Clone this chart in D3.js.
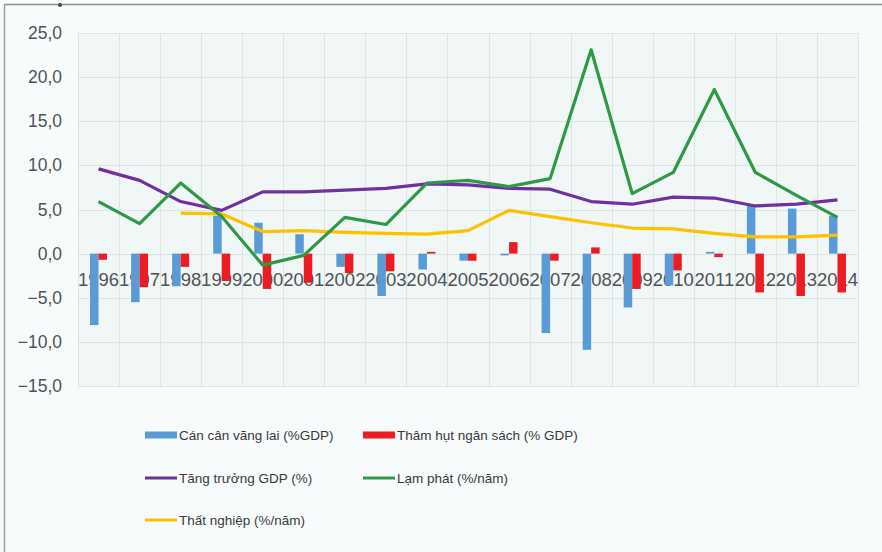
<!DOCTYPE html>
<html>
<head>
<meta charset="utf-8">
<script src="https://cdn.jsdelivr.net/npm/d3@7"></script>
<style>
  html, body { margin: 0; padding: 0; background: #ffffff; }
  svg { display: block; }
</style>
</head>
<body>
<svg id="chart" width="882" height="552"></svg>
<script>
// Years on the category axis
const years = ["1996","1997","1998","1999","2000","2001","2002","2003","2004","2005",
               "2006","2007","2008","2009","2010","2011","2012","2013","2014"];

// Bar series (% GDP)
const currentAccount = [-8.1,-5.5,-3.7,4.3,3.5,2.2,-1.5,-4.8,-1.8,-0.8,
                        -0.2,-9.0,-10.9,-6.1,-3.6,0.2,5.5,5.1,4.3];
const budgetDeficit  = [-0.7,-3.8,-1.5,-3.1,-4.0,-3.3,-2.2,-2.0,0.2,-0.8,
                        1.3,-0.8,0.7,-4.0,-1.9,-0.4,-4.4,-4.8,-4.4];

// Line series
const gdpGrowth    = [9.6,8.3,5.9,4.9,7.0,7.0,7.2,7.4,7.9,7.8,
                      7.4,7.3,5.9,5.6,6.4,6.3,5.4,5.6,6.1];
const inflation    = [5.9,3.4,8.0,4.2,-1.3,-0.2,4.1,3.3,8.0,8.3,
                      7.6,8.5,23.1,6.8,9.2,18.6,9.2,6.6,4.1];
const unemployment = [null,null,4.6,4.5,2.5,2.6,2.4,2.3,2.2,2.6,
                      4.9,4.2,3.5,2.9,2.8,2.3,1.9,1.9,2.1];

// Axis ticks
const yTicks = [-15,-10,-5,0,5,10,15,20,25];

// Legend labels
const barNames  = ["Cán cân vãng lai (%GDP)", "Thâm hụt ngân sách (% GDP)"];
const lineNames = ["Tăng trưởng GDP (%)", "Lạm phát (%/năm)", "Thất nghiệp (%/năm)"];

const colors = {
  blue: "#5b9bd5",
  red: "#ec1c24",
  purple: "#7030a0",
  green: "#2e9a45",
  orange: "#ffc000"
};

const svg = d3.select("#chart");
const W = 882, H = 552;
const plot = { left: 78, right: 858, top: 33, bottom: 386 };

// Page background and frame
svg.append("rect").attr("x", 0).attr("y", 0).attr("width", W).attr("height", H)
  .attr("fill", "#f8fbfb");
svg.append("rect").attr("x", plot.left).attr("y", plot.top)
  .attr("width", plot.right - plot.left).attr("height", plot.bottom - plot.top)
  .attr("fill", "#f1f6f6");
svg.append("line").attr("x1", 4).attr("x2", W).attr("y1", 4.5).attr("y2", 4.5)
  .attr("stroke", "#8c9090").attr("stroke-width", 1.5);
svg.append("line").attr("x1", 4.5).attr("x2", 4.5).attr("y1", 4).attr("y2", H)
  .attr("stroke", "#9a9e9e").attr("stroke-width", 1.5);
svg.append("circle").attr("cx", 60).attr("cy", 5).attr("r", 2).attr("fill", "#444");

const x = d3.scaleBand().domain(years).range([plot.left, plot.right]).padding(0);
const y = d3.scaleLinear().domain([-15, 25]).range([plot.bottom, plot.top]);

// Grid lines
const grid = svg.append("g").attr("stroke", "#dde4e4").attr("stroke-width", 1);
grid.selectAll("line.h").data(yTicks).join("line")
  .attr("x1", plot.left).attr("x2", plot.right)
  .attr("y1", d => Math.round(y(d)) + 0.5).attr("y2", d => Math.round(y(d)) + 0.5);
grid.selectAll("line.v").data(years.concat(["end"])).join("line")
  .attr("x1", (d, i) => Math.round(plot.left + i * x.bandwidth()) + 0.5)
  .attr("x2", (d, i) => Math.round(plot.left + i * x.bandwidth()) + 0.5)
  .attr("y1", plot.top).attr("y2", plot.bottom);

// Y axis labels
const yAxis = d3.axisLeft(y).tickValues(yTicks)
  .tickFormat(d => d3.format(".1f")(d).replace(".", ","))
  .tickSize(0).tickPadding(0);
const yg = svg.append("g").attr("transform", `translate(62,0)`).call(yAxis);
yg.select(".domain").remove();
yg.selectAll("text")
  .attr("font-family", "Liberation Sans, Arial, sans-serif")
  .attr("font-size", 17.5).attr("fill", "#4f5454");

// Category labels sit just below the zero line, underneath the bars
const xAxis = d3.axisBottom(x).tickSize(0).tickPadding(0);
const xg = svg.append("g").attr("transform", `translate(0,${y(0) + 32})`).call(xAxis);
xg.select(".domain").remove();
xg.selectAll("text")
  .attr("dy", "0")
  .attr("font-family", "Liberation Sans, Arial, sans-serif")
  .attr("font-size", 18.5).attr("fill", "#4f5454");

// Bars
const barW = 8.5;
const bars = svg.append("g");
const cx = d => x(d) + x.bandwidth() / 2;
bars.selectAll("rect.ca").data(years).join("rect")
  .attr("x", d => cx(d) - barW)
  .attr("width", barW)
  .attr("y", (d, i) => y(Math.max(0, currentAccount[i])))
  .attr("height", (d, i) => Math.abs(y(currentAccount[i]) - y(0)))
  .attr("fill", colors.blue);
bars.selectAll("rect.bd").data(years).join("rect")
  .attr("x", d => cx(d))
  .attr("width", barW)
  .attr("y", (d, i) => y(Math.max(0, budgetDeficit[i])))
  .attr("height", (d, i) => Math.abs(y(budgetDeficit[i]) - y(0)))
  .attr("fill", colors.red);

// Lines
const lineGen = d3.line()
  .defined(d => d.v !== null)
  .x(d => cx(d.k))
  .y(d => y(d.v));
const lineSeries = [
  { vals: gdpGrowth, color: colors.purple },
  { vals: unemployment, color: colors.orange },
  { vals: inflation, color: colors.green }
];
svg.append("g").selectAll("path").data(lineSeries).join("path")
  .attr("d", s => lineGen(years.map((k, i) => ({ k, v: s.vals[i] }))))
  .attr("fill", "none")
  .attr("stroke", s => s.color)
  .attr("stroke-width", 3.2)
  .attr("stroke-linejoin", "round");

// Legend
const legend = svg.append("g")
  .attr("font-family", "Liberation Sans, Arial, sans-serif")
  .attr("font-size", 13.5).attr("fill", "#3a3a3a");
const legendItems = [
  { name: barNames[0], color: colors.blue, type: "bar", x: 145, y: 435 },
  { name: barNames[1], color: colors.red, type: "bar", x: 363, y: 435 },
  { name: lineNames[0], color: colors.purple, type: "line", x: 145, y: 478 },
  { name: lineNames[1], color: colors.green, type: "line", x: 363, y: 478 },
  { name: lineNames[2], color: colors.orange, type: "line", x: 145, y: 520 }
];
const li = legend.selectAll("g").data(legendItems).join("g")
  .attr("transform", d => `translate(${d.x},${d.y})`);
li.filter(d => d.type === "bar").append("rect")
  .attr("x", 0).attr("y", -3.5).attr("width", 32).attr("height", 7)
  .attr("fill", d => d.color);
li.filter(d => d.type === "line").append("line")
  .attr("x1", 0).attr("x2", 32).attr("y1", 0).attr("y2", 0)
  .attr("stroke", d => d.color).attr("stroke-width", 3);
li.append("text")
  .attr("x", 34).attr("y", 0).attr("dy", "0.36em")
  .text(d => d.name);
</script>
</body>
</html>
